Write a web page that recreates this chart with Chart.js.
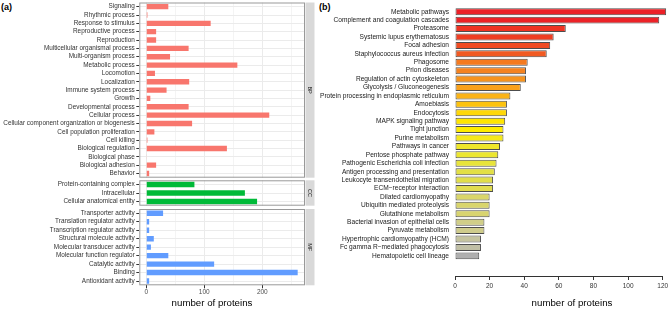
<!DOCTYPE html>
<html>
<head>
<meta charset="utf-8">
<script src="https://cdn.jsdelivr.net/npm/chart.js@4.4.1/dist/chart.umd.min.js"></script>
<style>
  body { margin: 0; background: #fff; width: 669px; height: 311px; position: relative; overflow: hidden;
         font-family: "Liberation Sans", Arial, sans-serif; }
  canvas { position: absolute; }
  .tag { position: absolute; font-weight: bold; font-size: 9px; line-height: 1; color: #000; }
  .ttl { position: absolute; font-size: 9.7px; line-height: 1; color: #000; white-space: nowrap;
         transform: translate(-50%, -50%); }
</style>
</head>
<body>
<div class="tag" style="left:1px;top:3px">(a)</div>
<div class="tag" style="left:319px;top:3px">(b)</div>

<canvas id="bp" width="320" height="180" style="left:0;top:0"></canvas>
<canvas id="cc" width="320" height="30" style="left:0;top:178px"></canvas>
<canvas id="mf" width="320" height="104" style="left:0;top:207px"></canvas>
<canvas id="kegg" width="354" height="311" style="left:315px;top:0"></canvas>

<div class="ttl" style="left:212px;top:303px">number of proteins</div>
<div class="ttl" style="left:572px;top:303px">number of proteins</div>

<script>
// GO terms (a)
var bpTerms = ["Signaling", "Rhythmic process", "Response to stimulus", "Reproductive process",
  "Reproduction", "Multicellular organismal process", "Multi-organism process", "Metabolic process",
  "Locomotion", "Localization", "Immune system process", "Growth", "Developmental process",
  "Cellular process", "Cellular component organization or biogenesis", "Cell population proliferation",
  "Cell killing", "Biological regulation", "Biological phase", "Biological adhesion", "Behavior"];
var bpCounts = [38, 2, 111, 17, 17, 73, 41, 157, 15, 74, 35, 7, 73, 212, 79, 14, 2, 139, 1, 17, 5];

var ccTerms = ["Protein-containing complex", "Intracellular", "Cellular anatomical entity"];
var ccCounts = [83, 170, 191];

var mfTerms = ["Transporter activity", "Translation regulator activity", "Transcription regulator activity",
  "Structural molecule activity", "Molecular transducer activity", "Molecular function regulator",
  "Catalytic activity", "Binding", "Antioxidant activity"];
var mfCounts = [29, 5, 5, 13, 8, 38, 117, 261, 5];

var goTicks = [0, 50, 100, 150, 200, 250];

// KEGG pathways (b)
var keggTerms = ["Metabolic pathways", "Complement and coagulation cascades", "Proteasome",
  "Systemic lupus erythematosus", "Focal adhesion", "Staphylococcus aureus infection", "Phagosome",
  "Prion diseases", "Regulation of actin cytoskeleton", "Glycolysis / Gluconeogenesis",
  "Protein processing in endoplasmic reticulum", "Amoebiasis", "Endocytosis", "MAPK signaling pathway",
  "Tight junction", "Purine metabolism", "Pathways in cancer", "Pentose phosphate pathway",
  "Pathogenic Escherichia coli infection", "Antigen processing and presentation",
  "Leukocyte transendothelial migration", "ECM\u2212receptor interaction", "Dilated cardiomyopathy",
  "Ubiquitin mediated proteolysis", "Glutathione metabolism", "Bacterial invasion of epithelial cells",
  "Pyruvate metabolism", "Hypertrophic cardiomyopathy (HCM)", "Fc gamma R\u2212mediated phagocytosis",
  "Hematopoietic cell lineage"];
var keggCounts = [122, 118, 64, 57, 55, 53, 42, 41, 41, 38, 32, 30, 30, 29, 28, 28, 26, 25, 24, 23,
  22, 22, 20, 20, 20, 17, 17, 15, 15, 14];
var keggTicks = [0, 20, 40, 60, 80, 100, 120];

var keggColors = ["#ec2027", "#ec2227", "#ee3424", "#ef3e23", "#f04b22", "#f15a22", "#f47a20", "#f5821f",
  "#f7931d", "#f9a11b", "#fbb317", "#fdc30f", "#ffd808", "#ffe500", "#feec00", "#f5e91b", "#efe72a",
  "#ece630", "#e8e43b", "#e2df45", "#e0dd4b", "#e0dc50", "#dad66a", "#d9d56c", "#d8d46f", "#d0ce88",
  "#cfcc8c", "#c5c49f", "#c0bfa5", "#afafaf"];

var FONT = "'Liberation Sans', Arial, sans-serif";

// panel border + grey facet strip on the right of each GO panel
var facetStrip = {
  id: "facetStrip",
  afterDraw: function (chart, args, opts) {
    if (!opts.label) return;
    var a = chart.chartArea, c = chart.ctx;
    c.save();
    c.strokeStyle = "#999";
    c.lineWidth = 1;
    c.strokeRect(a.left + 0.5, a.top + 0.5, a.right - a.left - 1, a.bottom - a.top - 1);
    c.fillStyle = "#d9d9d9";
    c.fillRect(a.right + 0.5, a.top, 9, a.bottom - a.top);
    c.translate(a.right + 5, (a.top + a.bottom) / 2);
    c.rotate(Math.PI / 2);
    c.fillStyle = "#1a1a1a";
    c.font = "5.5px " + FONT;
    c.textAlign = "center";
    c.textBaseline = "middle";
    c.fillText(opts.label, 0, 0);
    c.restore();
  }
};

function goChart(id, terms, counts, color, strip, showX, padTop, padBottom, axisH) {
  return new Chart(document.getElementById(id), {
    type: "bar",
    data: {
      labels: terms,
      datasets: [{ data: counts, backgroundColor: color, categoryPercentage: 1, barPercentage: 0.64 }]
    },
    options: {
      indexAxis: "y",
      responsive: false,
      animation: false,
      layout: { padding: { top: padTop, bottom: padBottom, left: 0, right: 15 } },
      plugins: { legend: { display: false }, tooltip: { enabled: false }, facetStrip: { label: strip } },
      scales: {
        x: {
          min: -12, max: 273.6,
          afterBuildTicks: function (s) { s.ticks = goTicks.map(function (v) { return { value: v }; }); },
          afterFit: function (s) { s.height = axisH; s.paddingLeft = 0; s.paddingRight = 0; },
          border: { display: false },
          grid: {
            color: function (ctx) { return ctx.tick && ctx.tick.value % 100 === 0 ? "#ebebeb" : "#f4f4f4"; },
            drawTicks: showX,
            tickLength: 3,
            tickColor: function (ctx) { return ctx.tick && ctx.tick.value % 100 === 0 ? "#333" : "rgba(0,0,0,0)"; }
          },
          ticks: {
            display: showX, padding: 0, autoSkip: false, maxRotation: 0,
            font: { family: FONT, size: 6.5 }, color: "#4d4d4d",
            callback: function (v) { return v % 100 === 0 ? v : ""; }
          }
        },
        y: {
          afterFit: function (s) { s.width = 139.3; s.paddingTop = 0; s.paddingBottom = 0; },
          border: { display: false },
          grid: { color: "#ebebeb", offset: false, tickLength: 3, tickColor: "#333" },
          ticks: { autoSkip: false, padding: 1.5, font: { family: FONT, size: 6.4 }, color: "#333" }
        }
      }
    },
    plugins: [facetStrip]
  });
}

goChart("bp", bpTerms, bpCounts, "#F8766D", "BP", false, 2.5, 2.3, 0);
goChart("cc", ccTerms, ccCounts, "#00BA38", "CC", false, 2.3, 2.3, 0);
goChart("mf", mfTerms, mfCounts, "#619CFF", "MF", true, 2, 0, 25.7);

new Chart(document.getElementById("kegg"), {
  type: "bar",
  data: {
    datasets: [{
      data: keggCounts.map(function (v, i) { return { x: v, y: i }; }),
      backgroundColor: keggColors,
      borderColor: "#4d4d4d",
      borderWidth: 1,
      borderSkipped: false,
      categoryPercentage: 1,
      barPercentage: 0.83,
      clip: false
    }]
  },
  options: {
    indexAxis: "y",
    responsive: false,
    animation: false,
    layout: { padding: { top: 2.95, right: 6.3, left: 0, bottom: 0 } },
    plugins: { legend: { display: false }, tooltip: { enabled: false } },
    scales: {
      x: {
        type: "linear", min: 0, max: 120,
        afterBuildTicks: function (s) { s.ticks = keggTicks.map(function (v) { return { value: v }; }); },
        afterFit: function (s) { s.height = 35; s.paddingLeft = 0; s.paddingRight = 0; },
        border: { display: true, color: "#333", width: 1 },
        grid: { drawOnChartArea: false, tickLength: 4, tickColor: "#333" },
        ticks: { padding: 2.5, autoSkip: false, maxRotation: 0, font: { family: FONT, size: 6.5 }, color: "#333" }
      },
      y: {
        type: "linear", reverse: true, min: -0.5, max: 30.85,
        afterBuildTicks: function (s) { s.ticks = keggTerms.map(function (t, i) { return { value: i }; }); },
        afterFit: function (s) { s.width = 140; s.paddingTop = 0; s.paddingBottom = 0; },
        border: { display: false },
        grid: { display: false, drawTicks: false },
        ticks: {
          autoSkip: false, padding: 6, font: { family: FONT, size: 6.6 }, color: "#1a1a1a",
          callback: function (v) { return keggTerms[v]; }
        }
      }
    }
  }
});
</script>
</body>
</html>
